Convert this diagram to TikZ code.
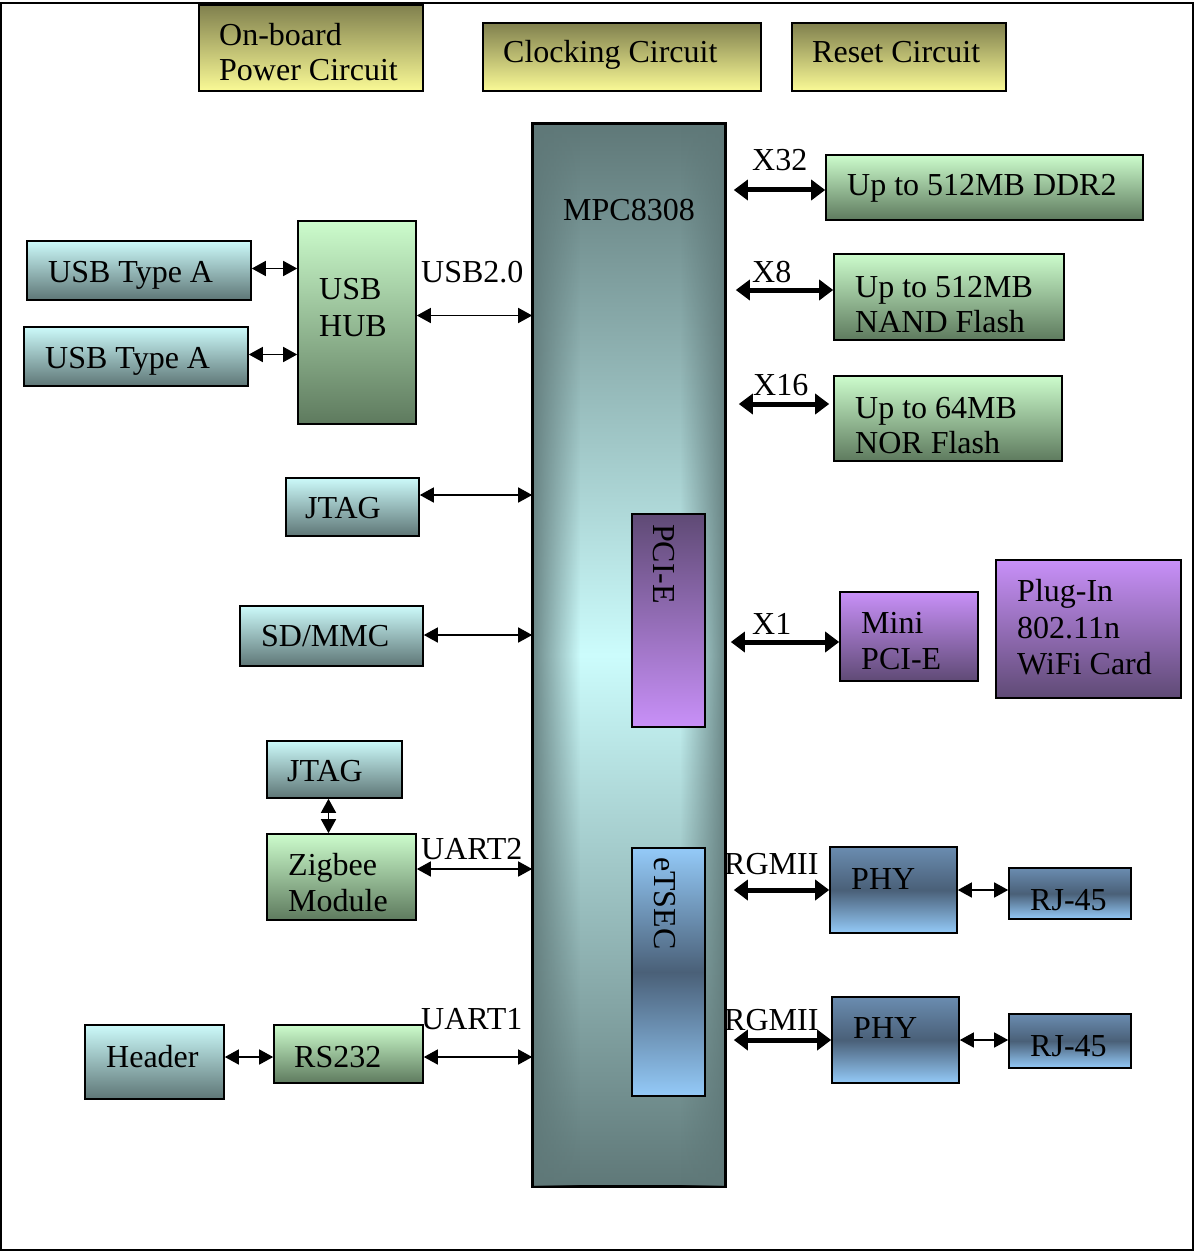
\documentclass[tikz,border=0pt]{standalone}
\usepackage{fontspec}
\setmainfont{Liberation Serif}
\usetikzlibrary{arrows.meta,fadings}
\definecolor{yTop}{RGB}{128,128,78}
\definecolor{yBot}{RGB}{250,250,150}
\definecolor{cTop}{RGB}{204,250,250}
\definecolor{cBot}{RGB}{94,118,118}
\definecolor{gTop}{RGB}{204,252,204}
\definecolor{gBot}{RGB}{94,122,94}
\definecolor{pDark}{RGB}{95,74,117}
\definecolor{pLight}{RGB}{200,144,248}
\definecolor{bLight}{RGB}{148,202,248}
\definecolor{bDark}{RGB}{74,96,120}
\definecolor{bMid}{RGB}{106,140,176}
\definecolor{mDark}{RGB}{95,120,120}
\definecolor{mLight}{RGB}{204,252,252}
\tikzfading[name=opaqueleft, left color=transparent!0, right color=transparent!100]
\tikzfading[name=opaqueright, left color=transparent!100, right color=transparent!0]
\tikzset{
  box/.style={draw=black, line width=1.6pt, inner sep=0pt, rectangle},
  yel/.style={box, top color=yTop, bottom color=yBot},
  cyn/.style={box, top color=cTop, bottom color=cBot},
  grn/.style={box, top color=gTop, bottom color=gBot},
  purdn/.style={box, top color=pDark, bottom color=pLight},
  purup/.style={box, top color=pLight, bottom color=pDark},
  blu/.style={box, top color=bLight, bottom color=bLight, middle color=bDark},
  phy/.style={box, top color=bMid, bottom color=bLight, middle color=bDark},
  mpcst/.style={box, top color=mDark, bottom color=mDark, middle color=mLight},
  txt/.style={inner sep=0pt, anchor=base west, font=\fontsize{32}{36}\selectfont},
  thinarr/.style={line width=1.5pt, {Triangle[length=14pt,width=15pt]}-{Triangle[length=14pt,width=15pt]}},
  thickarr/.style={line width=5pt, {Triangle[length=14pt,width=20pt]}-{Triangle[length=14pt,width=20pt]}},
}
\newcommand\mybox[6]{\node[#6, minimum width={#4-#2}, minimum height={#5-#3}] (#1) at ({(#2+#4)/2},{(#3+#5)/2}) {};}
\begin{document}
\begin{tikzpicture}[x=1pt,y=-1pt]
\useasboundingbox (0,0) rectangle (1194,1252);
\draw[line width=1.5pt] (1,3) rectangle (1193,1250);
% top row
\mybox{pwr}{199}{5}{423}{91}{yel}
\mybox{clk}{483}{23}{761}{91}{yel}
\mybox{rst}{792}{23}{1006}{91}{yel}
\node[txt] (tpwr1) at (219,46) {On-board};
\node[txt] (tpwr2) at (219,81) {Power Circuit};
\node[txt] (tclk) at (503,63) {Clocking Circuit};
\node[txt] (trst) at (812,63) {Reset Circuit};
% MPC
\mybox{mpc}{533}{124}{725}{1186}{mpcst}
\fill[mDark, path fading=opaqueleft, fill opacity=0.85] (534,125) rectangle (580,1185);
\fill[mDark, path fading=opaqueright, fill opacity=0.85] (680,125) rectangle (724,1185);
\draw[line width=1.6pt] (mpc.north west) rectangle (mpc.south east);
\node[txt] (tmpc) at (563,220) {MPC8308};
\mybox{pci}{632}{514}{705}{727}{purdn}
\node[txt, rotate=-90] (tpci) at (653,524) {PCI-E};
\mybox{etsec}{632}{848}{705}{1096}{blu}
\node[txt, rotate=-90] (tets) at (654,857) {eTSEC};
% left
\mybox{usba1}{27}{241}{251}{300}{cyn}
\node[txt] (tusba1) at (48,282) {USB Type A};
\mybox{usba2}{24}{327}{248}{386}{cyn}
\node[txt] (tusba2) at (45,368) {USB Type A};
\mybox{hub}{298}{221}{416}{424}{grn}
\node[txt] (thub1) at (319,299) {USB};
\node[txt] (thub2) at (319,336) {HUB};
\node[txt] (lusb) at (421,282) {USB2.0};
\mybox{jtag1}{286}{478}{419}{536}{cyn}
\node[txt] (tjtag1) at (305,518) {JTAG};
\mybox{sd}{240}{606}{423}{666}{cyn}
\node[txt] (tsd) at (261,646) {SD/MMC};
\mybox{jtag2}{267}{741}{402}{798}{cyn}
\node[txt] (tjtag2) at (287,781) {JTAG};
\mybox{zig}{267}{834}{416}{920}{grn}
\node[txt] (tzig1) at (288,875) {Zigbee};
\node[txt] (tzig2) at (288,911) {Module};
\node[txt] (luart2) at (421,859) {UART2};
\mybox{hdr}{85}{1025}{224}{1099}{cyn}
\node[txt] (thdr) at (106,1067) {Header};
\mybox{rs}{274}{1025}{423}{1083}{grn}
\node[txt] (trs) at (294,1067) {RS232};
\node[txt] (luart1) at (421,1029) {UART1};
% right
\mybox{ddr}{826}{155}{1143}{220}{grn}
\node[txt] (tddr) at (847,196) {Up to 512MB DDR2};
\node[txt] (lx32) at (752,171) {X32};
\mybox{nand}{834}{254}{1064}{340}{grn}
\node[txt] (tnand1) at (855,297) {Up to 512MB};
\node[txt] (tnand2) at (855,332) {NAND Flash};
\node[txt] (lx8) at (752,282) {X8};
\mybox{nor}{834}{376}{1062}{461}{grn}
\node[txt] (tnor1) at (855,418) {Up to 64MB};
\node[txt] (tnor2) at (855,453) {NOR Flash};
\node[txt] (lx16) at (753,395) {X16};
\mybox{mini}{840}{592}{978}{681}{purup}
\node[txt] (tmini1) at (861,633) {Mini};
\node[txt] (tmini2) at (861,669) {PCI-E};
\node[txt] (lx1) at (752,634) {X1};
\mybox{wifi}{996}{560}{1181}{698}{purup}
\node[txt] (twifi1) at (1017,601) {Plug-In};
\node[txt] (twifi2) at (1017,638) {802.11n};
\node[txt] (twifi3) at (1017,674) {WiFi Card};
\mybox{phy1}{830}{847}{957}{933}{phy}
\node[txt] (tphy1) at (851,889) {PHY};
\mybox{rj1}{1009}{868}{1131}{919}{phy}
\node[txt] (trj1) at (1030,910) {RJ-45};
\node[txt] (lrg1) at (724,874) {RGMII};
\mybox{phy2}{832}{997}{959}{1083}{phy}
\node[txt] (tphy2) at (853,1038) {PHY};
\mybox{rj2}{1009}{1014}{1131}{1068}{phy}
\node[txt] (trj2) at (1030,1056) {RJ-45};
\node[txt] (lrg2) at (724,1030) {RGMII};
% connectors left
\draw[thinarr] ([yshift=2pt]usba1.east) -- ([yshift=2pt]usba1.east -| hub.west);
\draw[thinarr] ([yshift=2pt]usba2.east) -- ([yshift=2pt]usba2.east -| hub.west);
\draw[thinarr] ([yshift=7pt]hub.east) -- ([yshift=7pt]hub.east -| mpc.west);
\draw[thinarr] ([yshift=12pt]jtag1.east) -- ([yshift=12pt]jtag1.east -| mpc.west);
\draw[thinarr] ([yshift=1pt]sd.east) -- ([yshift=1pt]sd.east -| mpc.west);
\draw[thinarr] ([xshift=-6pt]jtag2.south) -- ([xshift=-6pt]jtag2.south |- zig.north);
\draw[thinarr] ([yshift=8pt]zig.east) -- ([yshift=8pt]zig.east -| mpc.west);
\draw[thinarr] ([yshift=5pt]hdr.east) -- ([yshift=5pt]hdr.east -| rs.west);
\draw[thinarr] ([yshift=-3pt]rs.east) -- ([yshift=-3pt]rs.east -| mpc.west);
% connectors right
\draw[thickarr, shorten <=8pt] ([yshift=-2.5pt]ddr.west -| mpc.east) -- ([yshift=-2.5pt]ddr.west);
\draw[thickarr, shorten <=10pt] ([yshift=7pt]nand.west -| mpc.east) -- ([yshift=7pt]nand.west);
\draw[thickarr, shorten <=13pt, shorten >=4pt] ([yshift=14.5pt]nor.west -| mpc.east) -- ([yshift=14.5pt]nor.west);
\draw[thickarr, shorten <=5pt] ([yshift=-5.5pt]mini.west -| mpc.east) -- ([yshift=-5.5pt]mini.west);
\draw[thickarr, shorten <=8pt] (phy1.west -| mpc.east) -- (phy1.west);
\draw[thickarr, shorten <=8pt] (phy2.west -| mpc.east) -- (phy2.west);
\draw[thinarr] (phy1.east) -- (phy1.east -| rj1.west);
\draw[thinarr] (phy2.east) -- (phy2.east -| rj2.west);
\end{tikzpicture}
\end{document}
